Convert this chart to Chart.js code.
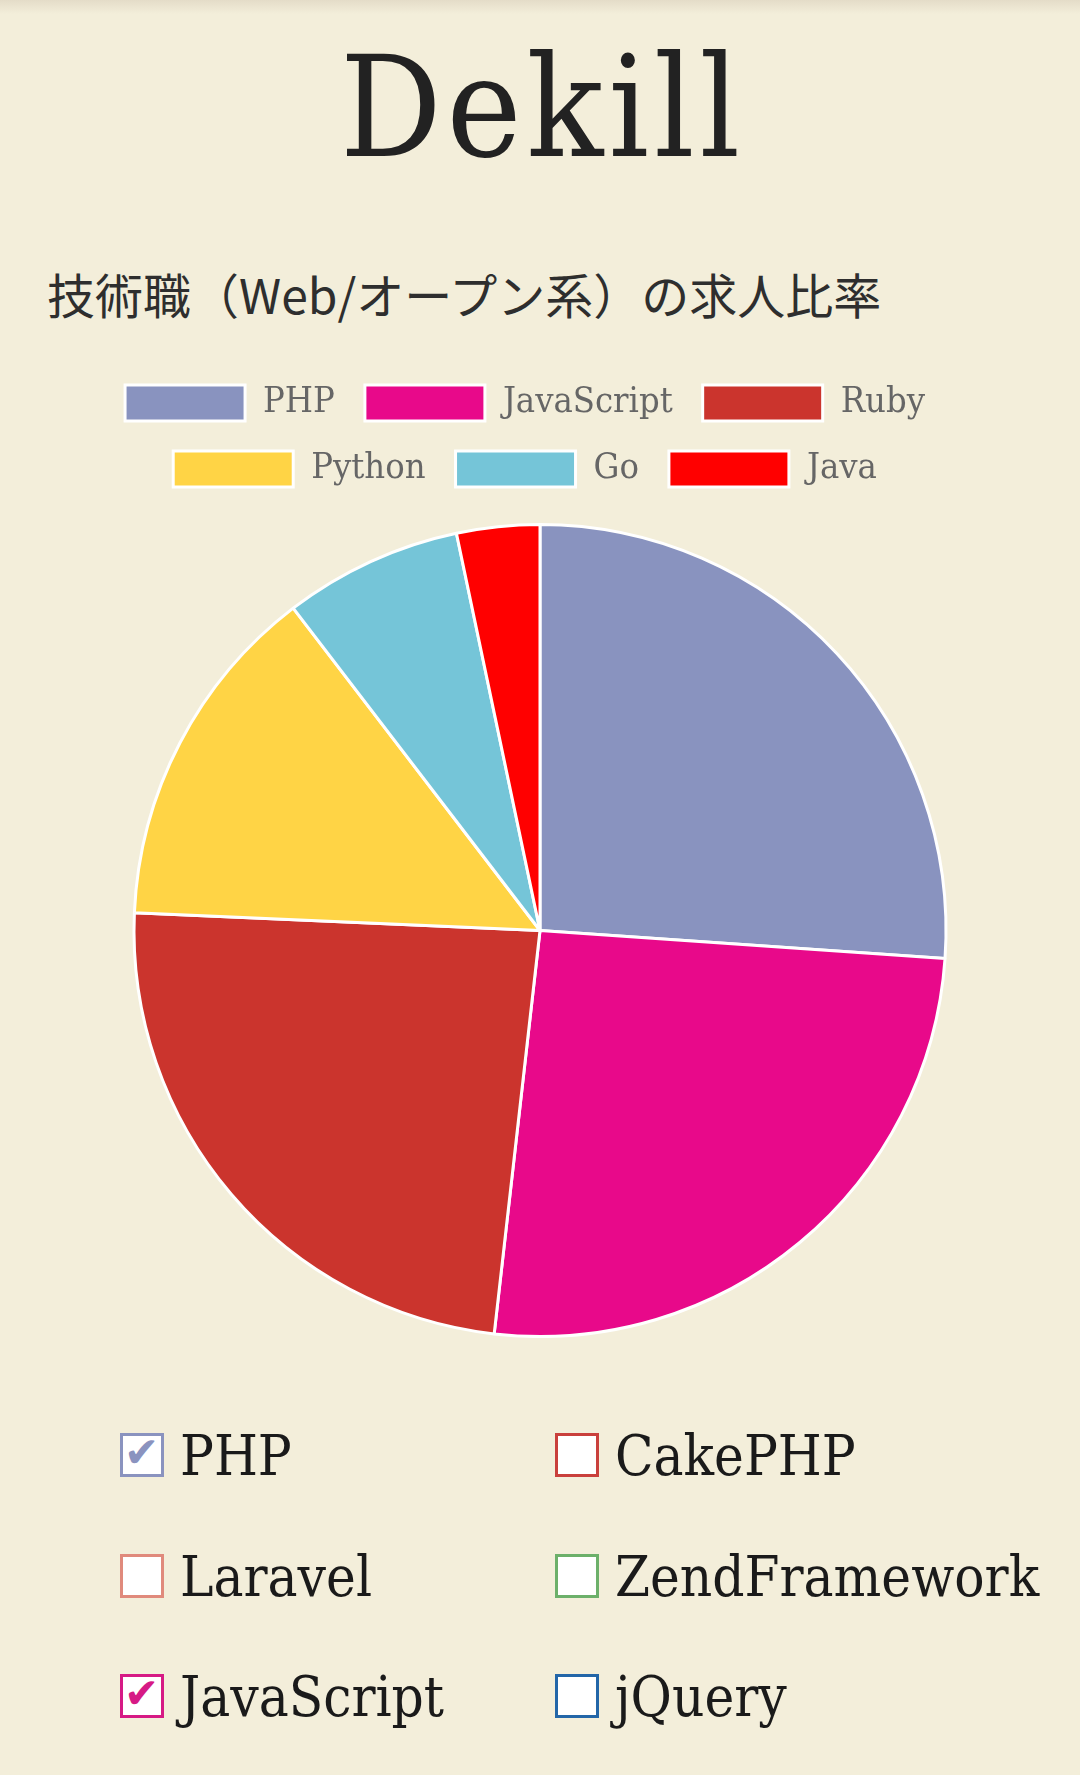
<!DOCTYPE html>
<html>
<head>
<meta charset="utf-8">
<script src="https://cdn.jsdelivr.net/npm/chart.js@4.4.0/dist/chart.umd.min.js"></script>
<style>
  html, body { margin: 0; padding: 0; }
  body { width: 1080px; height: 1775px; background: #f3eeda; position: relative; overflow: hidden;
         font-family: 'DejaVu Serif Condensed', 'DejaVu Serif', serif; }
  #shade { position: absolute; left: 0; top: 0; width: 1080px; height: 14px;
           background: linear-gradient(#e4dcc8, #f3eeda); }
  #title { position: absolute; left: 0; width: 1080px; top: 37px; text-align: center;
           font-size: 141px; line-height: 1; color: #222; letter-spacing: 5px; text-indent: 5px; }
  #heading { position: absolute; left: 47px; top: 269px; font-family: 'Noto Sans CJK JP', sans-serif;
             font-size: 48px; line-height: 1; color: #2e2e2e; white-space: nowrap; }
  #wrap { position: absolute; left: 0; top: 355px; width: 1080px; height: 983px; }
  .opt { position: absolute; height: 60px; display: flex; align-items: center; font-size: 56px; color: #1a1a1a; white-space: nowrap; }
  .box { width: 38px; height: 38px; border: 3px solid; background: #fff; margin-right: 16px; position: relative; box-sizing: content-box; }
  .box span { position: absolute; left: 1px; top: -4px; font-family: 'DejaVu Sans', sans-serif; font-size: 42px; line-height: 1; }
</style>
</head>
<body>
<div id="shade"></div>
<div id="title">Dekill</div>
<div id="heading">技術職（Web/オープン系）の求人比率</div>
<div id="wrap"><canvas id="c"></canvas></div>
<div id="opts"></div>
<script>
const languages = ['PHP', 'JavaScript', 'Ruby', 'Python', 'Go', 'Java'];
const shares = [26.1, 25.7, 23.9, 13.9, 7.1, 3.3];
const sliceColors = ['#8993bf', '#e8098a', '#cb342d', '#ffd445', '#75c5d8', '#ff0000'];

const frameworks = ['PHP', 'CakePHP', 'Laravel', 'ZendFramework', 'JavaScript', 'jQuery'];
const frameworkChecked = [true, false, false, false, true, false];
const frameworkColors = ['#8a93bf', '#c9403c', '#e08a7c', '#6cb06a', '#d61a85', '#2366a8'];

const optsDiv = document.getElementById('opts');
const colX = [120, 555];
const rowY = [1425, 1546, 1666];
frameworks.forEach((name, i) => {
  const d = document.createElement('div');
  d.className = 'opt';
  d.style.left = colX[i % 2] + 'px';
  d.style.top = rowY[Math.floor(i / 2)] + 'px';
  const b = document.createElement('div');
  b.className = 'box';
  b.style.borderColor = frameworkColors[i];
  if (frameworkChecked[i]) {
    const s = document.createElement('span');
    s.textContent = '✔';
    s.style.color = frameworkColors[i];
    b.appendChild(s);
  }
  d.appendChild(b);
  const t = document.createElement('span');
  t.textContent = name;
  d.appendChild(t);
  optsDiv.appendChild(d);
});

const legendGap = {
  id: 'legendGap',
  beforeUpdate(chart) {
    const lg = chart.legend;
    if (lg && !lg._gapPatched) {
      const orig = lg.fit;
      lg.fit = function () { orig.call(this); this.height += 26; };
      lg._gapPatched = true;
    }
  },
  afterLayout(chart) {
    const lg = chart.legend;
    if (lg) { lg.right -= 30; lg.width -= 30; }
  }
};

new Chart(document.getElementById('c'), {
  type: 'pie',
  data: {
    labels: languages,
    datasets: [{
      data: shares,
      backgroundColor: sliceColors,
      borderColor: '#ffffff',
      borderWidth: 3,
      hoverOffset: 0
    }]
  },
  options: {
    responsive: true,
    maintainAspectRatio: false,
    animation: false,
    layout: { padding: 0 },
    plugins: {
      legend: {
        position: 'top',
        labels: {
          boxWidth: 120,
          boxHeight: 36,
          padding: 30,
          color: '#666',
          font: { size: 36, family: "'DejaVu Serif Condensed', 'DejaVu Serif', serif" }
        }
      },
      tooltip: { enabled: false }
    }
  },
  plugins: [legendGap]
});
</script>
</body>
</html>
